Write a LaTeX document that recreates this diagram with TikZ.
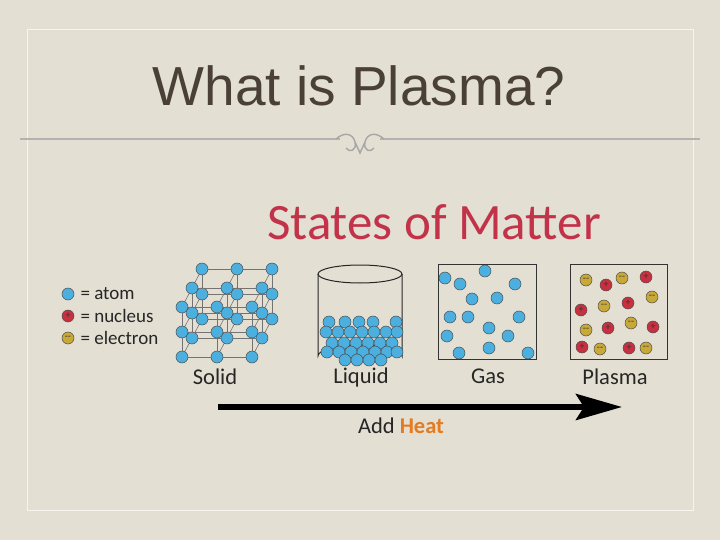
\documentclass[tikz,border=0pt]{standalone}
\usepackage{fontspec}
\setmainfont{Liberation Sans}
\newfontfamily\carl{Carlito}
\usetikzlibrary{arrows.meta}
\definecolor{bg}{HTML}{E3DFD3}
\definecolor{atomc}{HTML}{4BB0E0}
\definecolor{nucc}{HTML}{C83040}
\definecolor{elc}{HTML}{C8A838}
\definecolor{titlec}{HTML}{4A4038}
\definecolor{smc}{HTML}{C2334A}
\definecolor{heatc}{HTML}{E57A1E}
\tikzset{
 atom/.style={circle,fill=atomc,draw=black!70,line width=0.5pt,minimum size=12pt,inner sep=0pt},
 nuc/.style={circle,fill=nucc,draw=black!70,line width=0.5pt,minimum size=12pt,inner sep=0pt,font=\carl\fontsize{10}{10}\selectfont,text=black!80},
 elec/.style={circle,fill=elc,draw=black!70,line width=0.5pt,minimum size=12pt,inner sep=0pt,font=\carl\fontsize{10}{10}\selectfont,text=black!80},
 lbl/.style={font=\carl\fontsize{22.5}{22.5}\selectfont,text=black!85},
 leg/.style={font=\carl\fontsize{19}{19}\selectfont,text=black!85,anchor=west},
 latt/.style={draw=black!55,line width=0.6pt},
 box/.style={draw=black!80,line width=1pt}
}
\begin{document}
\begin{tikzpicture}[x=1pt,y=-1pt]
\fill[bg] (0,0) rectangle (720,540);
\useasboundingbox (0,0) rectangle (720,540);
\draw[white!70!bg,line width=1pt] (27,30) rectangle (693,510);
\node[font=\fontsize{55}{55}\selectfont,text=titlec] (title) at (359,86) {What is Plasma?};
\draw[black!30,line width=2pt] (20,139) -- (340,139);
\draw[black!30,line width=2pt] (380,139) -- (700,139);
\draw[black!35,line width=1.4pt] (336,139) .. controls (345,131) and (353,134) .. (355,142) .. controls (357,151) and (349,153) .. (346,148)
 (384,139) .. controls (375,131) and (367,134) .. (365,142) .. controls (363,151) and (371,153) .. (374,148)
 (355,142) -- (360,153) -- (365,142);
\node[font=\carl\fontsize{51}{51}\selectfont,text=smc] (sm) at (434,222) {States of Matter};
% legend
\node[atom] (la) at (68,294) {};
\node[nuc] (ln) at (68,316) {+};
\node[elec] (le) at (68,338) {--};
\node[leg] (lat) at (77,294) {= atom};
\node[leg] (lnt) at (77,316) {= nucleus};
\node[leg] (let) at (77,338) {= electron};
% solid lattice, back to front
\foreach \d in {2,1,0}{
 \foreach \i in {0,1,2}{\foreach \j in {0,1,2}{
   \coordinate (s\i\j\d) at ({182+35*\i+10*\d},{307+25*\j-19*\d});}}}
\foreach \d in {2,1,0}{
 \foreach \i in {0,1,2}{\foreach \j in {0,1,2}{
   \ifnum\i<2 \pgfmathtruncatemacro{\ni}{\i+1}\draw[latt] (s\i\j\d) -- (s\ni\j\d);\fi
   \ifnum\j<2 \pgfmathtruncatemacro{\nj}{\j+1}\draw[latt] (s\i\j\d) -- (s\i\nj\d);\fi
   \ifnum\d>0 \pgfmathtruncatemacro{\nd}{\d-1}\draw[latt] (s\i\j\d) -- (s\i\j\nd);\fi
   \node[atom] (a\i\j\d) at (s\i\j\d) {};
 }}}
% liquid cylinder
\draw[black!85,line width=1pt,fill=bg] (318,274) -- (318,356) arc[start angle=180,end angle=360,x radius=42,y radius=11] -- (402,274);
\draw[black!85,line width=1pt] (360,274) ellipse[x radius=42,y radius=9];
\foreach \x [count=\k] in {329,345,359,373,396}{\node[atom] (q1\k) at (\x,322) {};}
\foreach \x [count=\k] in {326,338,350,362,374,386,397}{\node[atom] (q2\k) at (\x,332) {};}
\foreach \x [count=\k] in {332,344,356,368,380,392}{\node[atom] (q3\k) at (\x,343) {};}
\foreach \x [count=\k] in {327,339,351,363,375,387,397}{\node[atom] (q4\k) at (\x,352) {};}
\foreach \x [count=\k] in {345,357,369,381}{\node[atom] (q5\k) at (\x,360) {};}
% gas
\node[box,minimum width=98pt,minimum height=95pt,inner sep=0pt] (gasbox) at (487,311.5) {};
\foreach \p [count=\k] in {(445,278),(485,271),(460,284),(515,284),(472,299),(497,298),(450,317),(468,317),(519,317),(489,328),(447,336),(508,336),(489,348),(459,353),(528,353)}{\node[atom] (g\k) at \p {};}
% plasma
\node[box,minimum width=97pt,minimum height=95pt,inner sep=0pt] (plbox) at (618.5,311.5) {};
\foreach \p [count=\k] in {(586,280),(622,278),(652,297),(604,306),(631,323),(586,330),(600,349),(646,348)}{\node[elec] (e\k) at \p {--};}
\foreach \p [count=\k] in {(646,277),(606,285),(628,303),(581,310),(608,328),(653,327),(582,347),(629,348)}{\node[nuc] (n\k) at \p {+};}
% labels
\node[lbl] (ts) at (215,377) {Solid};
\node[lbl] (tl) at (361,377) {Liquid};
\node[lbl] (tg) at (488,376) {Gas};
\node[lbl] (tp) at (615,377) {Plasma};
\coordinate (as) at (218,407);
\coordinate (ae) at (622,407);
\draw[line width=6pt,-{Stealth[length=46pt,width=26pt,inset=8pt]}] (as) -- (ae);
\node[lbl] (heat) at (401,426) {Add \textcolor{heatc}{\bfseries Heat}};
\end{tikzpicture}
\end{document}
